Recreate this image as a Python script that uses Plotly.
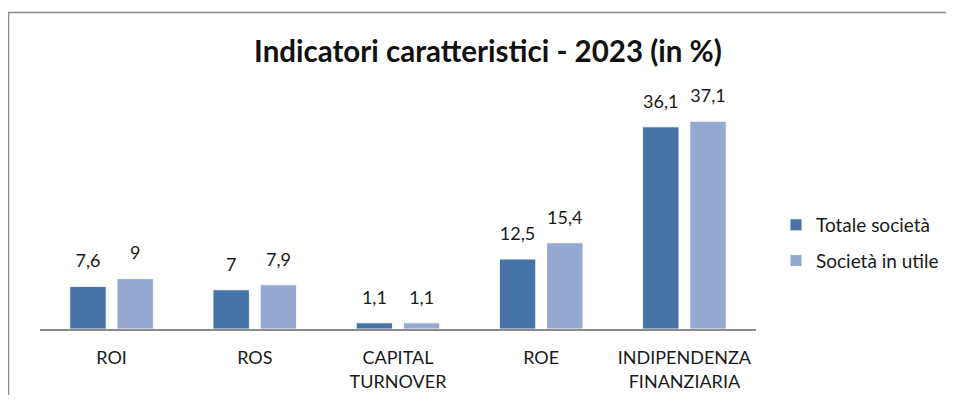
import plotly.graph_objects as go

categories = ["ROI", "ROS", "CAPITAL<br>TURNOVER", "ROE", "INDIPENDENZA<br>FINANZIARIA"]
totale = [7.6, 7.0, 1.1, 12.5, 36.1]
utile = [9.0, 7.9, 1.1, 15.4, 37.1]
series_names = ["Totale società", "Società in utile"]
colors = ["#4673A8", "#95A9D1"]

def fmt(v):
    return f"{v:g}".replace(".", ",")

OFF = 8  # page body margin
W, H = 954 - 2 * OFF, 403 - 2 * OFF
ML, MR = 40 - OFF, W - (756 - OFF)
MT, MB = 105 - OFF, H - (329 - OFF)
FONT = "Lato"

fig = go.Figure()
for i, (name, vals) in enumerate(zip(series_names, [totale, utile])):
    fig.add_trace(go.Bar(
        x=categories, y=vals, name=name, marker_color=colors[i],
        marker_line=dict(color="rgba(255,255,255,0.9)", width=1),
        offsetgroup=str(i), legendgroup=str(i),
    ))
for i, vals in enumerate([totale, utile]):
    fig.add_trace(go.Scatter(
        x=categories, y=vals, mode="markers+text", text=[fmt(v) for v in vals],
        textposition="top center", textfont=dict(size=18, color="#1a1a1a", family=FONT),
        marker=dict(size=22, opacity=0), offsetgroup=str(i), showlegend=False,
        hoverinfo="skip", cliponaxis=False,
    ))

pw = W - ML - MR
ph = H - MT - MB
def px_x(x):
    return (x - OFF - ML) / pw
def px_y(y):
    return (H - MB - (y - OFF)) / ph

fig.add_shape(type="line", xref="paper", yref="paper", x0=px_x(8.5), x1=px_x(8.5),
              y0=px_y(12), y1=px_y(420), line=dict(color="#8a8a8a", width=1.5))
fig.add_shape(type="line", xref="paper", yref="paper", x0=px_x(8), x1=px_x(970),
              y0=px_y(12.5), y1=px_y(12.5), line=dict(color="#8a8a8a", width=1.5))

fig.update_layout(
    width=W, height=H, margin=dict(l=ML, r=MR, t=MT, b=MB, autoexpand=False),
    paper_bgcolor="white", plot_bgcolor="white",
    barmode="group", bargap=0.34, bargroupgap=0.23,
    scattermode="group", scattergap=0.34,
    font=dict(family=FONT, size=18, color="#1a1a1a"),
    title=dict(text="<b>Indicatori caratteristici - 2023 (in %)</b>", x=(488 - OFF) / W, xanchor="center",
               y=1 - (52 - OFF) / H, yanchor="middle", font=dict(size=29.5, family=FONT, color="#111")),
    xaxis=dict(showline=True, linecolor="#8c8c8c", linewidth=1.5, tickfont=dict(size=18),
               ticks="", showgrid=False, ticklabelstandoff=12, automargin=False),
    yaxis=dict(range=[0, 40], visible=False, showgrid=False, zeroline=False, automargin=False),
    legend=dict(x=px_x(776), y=px_y(243), xanchor="left", yanchor="middle",
                font=dict(size=19), tracegroupgap=8, traceorder="grouped",
                itemwidth=30),
    showlegend=True,
)

fig.write_html("out.html")
